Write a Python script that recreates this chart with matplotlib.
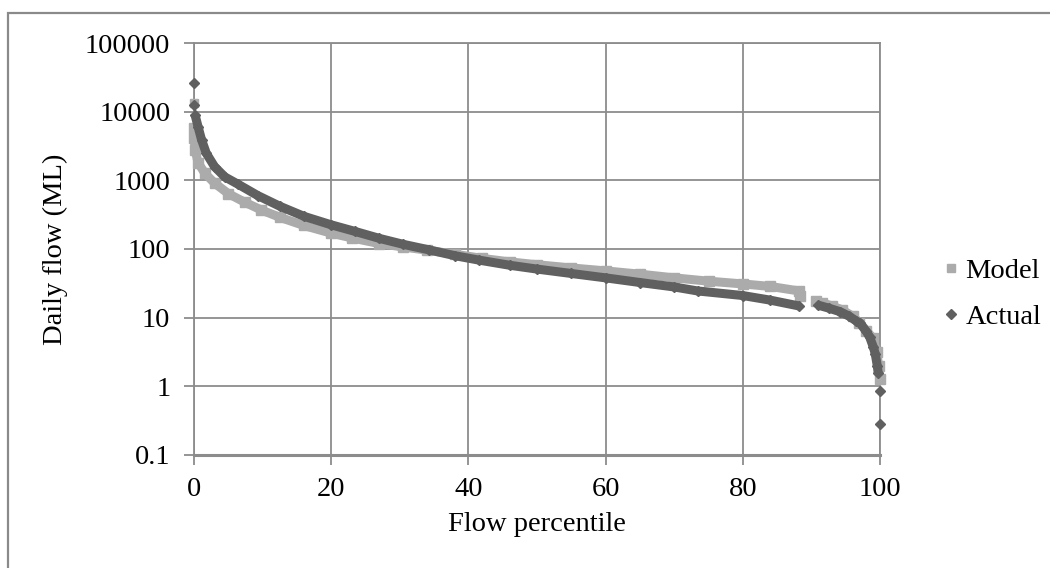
import numpy as np
import matplotlib
matplotlib.use("Agg")
import matplotlib.pyplot as plt
from matplotlib.lines import Line2D
from matplotlib.patches import Rectangle

plt.rcParams['font.family'] = ['Liberation Serif', 'DejaVu Serif']

# flow duration curves (percentile, ML/day)
model_p1 = [0.0, 0.05, 0.15, 0.6, 1.6, 3.0, 5.0, 7.4, 9.8, 12.5, 16, 20, 23, 27, 30.5, 34,
            38, 42, 46, 50, 55, 60, 65, 70, 75, 80, 84, 88.2, 88.3]
model_q1 = [5700, 4200, 2800, 1800, 1260, 910, 640, 480, 370, 290, 220, 170, 145, 120, 107, 96,
            84, 73, 65, 59, 53, 48, 43, 38, 34, 31, 28.5, 24.5, 20.5]
model_p2 = [90.6, 91.5, 93, 94.5, 96, 97, 98, 99, 99.5, 99.8, 99.95]
model_q2 = [17.5, 16.5, 14.8, 13, 10.5, 8.5, 6.5, 5, 3.2, 2.0, 1.3]
model_peak_p = [0.0]
model_peak_q = [13500]

actual_p1 = [0.15, 0.6, 1.1, 1.8, 3.0, 4.5, 6.4, 9.3, 12.5, 16, 20, 23.5, 27, 30.5, 34.3,
             38, 41.5, 46, 50, 55, 60, 65, 70, 73.4, 80, 84, 88.2]
actual_q1 = [9000, 6000, 3900, 2470, 1580, 1120, 880, 600, 420, 300, 225, 180, 143, 117, 97,
             80, 69, 58, 51, 44, 38, 32.5, 28, 24.5, 21, 18, 14.8]
actual_p2 = [90.9, 92.5, 94.2, 95.5, 96.5, 97.1, 98, 98.5, 99.0, 99.3, 99.6, 99.75]
actual_q2 = [15.3, 13.8, 12.2, 10.5, 9.0, 8.3, 6.3, 5.2, 3.8, 3.0, 2.0, 1.55]
actual_peak_p = [0.0, 0.0, 100, 100]
actual_peak_q = [26000, 12500, 0.85, 0.28]

ytick_vals = [0.1, 1, 10, 100, 1000, 10000, 100000]
ytick_text = ["0.1", "1", "10", "100", "1000", "10000", "100000"]
xtick_vals = [0, 20, 40, 60, 80, 100]

light = "#ababab"
dark = "#606060"
grid_c = "#8c8c8c"
fs = 20.5

fig = plt.figure(figsize=(10.5, 5.68), dpi=100)
ax = fig.add_axes([194/1050, 1-455/568, (880-194)/1050, (455-43)/568])

for p, q in [(model_p1, model_q1), (model_p2, model_q2)]:
    ax.plot(p, q, color=light, lw=6.5, marker='s', ms=6.5, clip_on=False,
            solid_capstyle='butt', zorder=3)
ax.plot(model_peak_p, model_peak_q, ls='none', color=light, marker='s', ms=6,
        clip_on=False, zorder=3)

for p, q in [(actual_p1, actual_q1), (actual_p2, actual_q2)]:
    ax.plot(p, q, color=dark, lw=6.5, marker='D', ms=5.5, clip_on=False,
            solid_capstyle='butt', zorder=4)
ax.plot(actual_peak_p, actual_peak_q, ls='none', color=dark, marker='D', ms=5,
        clip_on=False, zorder=4)

ax.set_yscale('log')
ax.set_ylim(0.1, 100000)
ax.set_xlim(0, 100)
ax.set_yticks(ytick_vals)
ax.set_yticklabels(ytick_text)
ax.yaxis.set_minor_locator(matplotlib.ticker.NullLocator())
ax.set_xticks(xtick_vals)
ax.grid(True, color=grid_c, lw=1.3)
ax.set_axisbelow(True)
for s in ax.spines.values():
    s.set_color(grid_c)
    s.set_linewidth(1.3)
ax.spines['bottom'].set_linewidth(2.2)
ax.tick_params(axis='both', direction='out', length=7, width=1.3, color=grid_c,
               labelsize=fs, labelcolor='black')
ax.tick_params(axis='y', pad=10)
ax.tick_params(axis='x', pad=9)

ax.set_xlabel("Flow percentile", fontsize=fs, labelpad=7)
ax.set_ylabel("Daily flow (ML)", fontsize=fs, labelpad=12)

handles = [Line2D([], [], ls='none', marker='s', color=light, ms=6),
           Line2D([], [], ls='none', marker='D', color=dark, ms=5)]
fig.legend(handles, ["Model", "Actual"], loc='center left',
           bbox_to_anchor=(944/1050, 1-294/568), frameon=False, fontsize=fs,
           borderaxespad=0, borderpad=0,
           handlelength=0.5, handletextpad=0.25, labelspacing=0.72)

fig.add_artist(Rectangle((8/1050, -0.1), 1.2, 1.1 - 13/568, transform=fig.transFigure,
                         fill=False, edgecolor="#8a8a8a", lw=1.6))

fig.savefig("out.png", dpi=100)
